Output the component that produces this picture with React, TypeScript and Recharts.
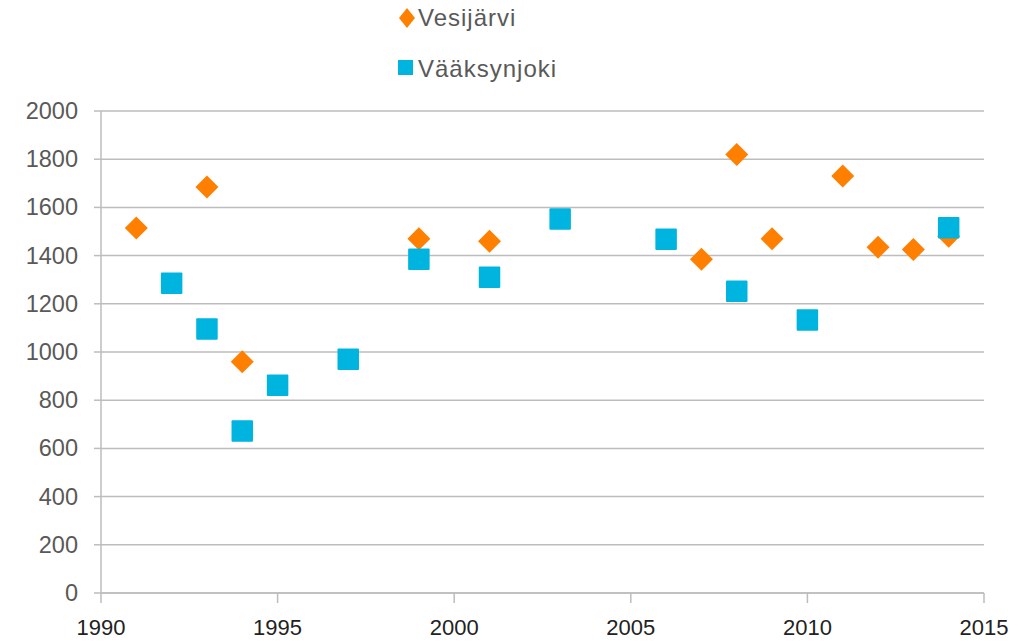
import { ScatterChart, Scatter, XAxis, YAxis, CartesianGrid } from "recharts";

const vesiYears = [1991, 1993, 1994, 1999, 2001, 2007, 2008, 2009, 2011, 2012, 2013, 2014];
const vesiValues = [1515, 1685, 960, 1470, 1460, 1385, 1820, 1470, 1730, 1435, 1425, 1480];
const vaakYears = [1992, 1993, 1994, 1995, 1997, 1999, 2001, 2003, 2006, 2008, 2010, 2014];
const vaakValues = [1285, 1095, 672, 862, 970, 1385, 1310, 1552, 1468, 1252, 1133, 1516];
const xTicks = [1990, 1995, 2000, 2005, 2010, 2015];
const yTicks = [0, 200, 400, 600, 800, 1000, 1200, 1400, 1600, 1800, 2000];

const ORANGE = "#FF8000";
const BLUE = "#00B4E0";
const GRID = "#BDBDBD";
const TEXT = "#595959";
const FONT = "Liberation Sans, Arial, sans-serif";

const vesiData = vesiYears.map((year, i) => ({ year, value: vesiValues[i] }));
const vaakData = vaakYears.map((year, i) => ({ year, value: vaakValues[i] }));

function Diamond({ cx, cy }: any) {
  const r = 11.5;
  return <polygon points={`${cx},${cy - r} ${cx + r},${cy} ${cx},${cy + r} ${cx - r},${cy}`} fill={ORANGE} />;
}

function Square({ cx, cy }: any) {
  const s = 21.5;
  return <rect x={cx - s / 2} y={cy - s / 2} width={s} height={s} rx={1} fill={BLUE} />;
}

function XTick({ x, y, payload }: any) {
  return (
    <text x={x} y={y + 30} textAnchor="middle" fontSize={22} fill="#222" fontFamily={FONT}>
      {payload.value}
    </text>
  );
}

function YTick({ y, payload }: any) {
  return (
    <text x={78} y={y} dy={8} textAnchor="end" fontSize={23.5} fill={TEXT} fontFamily={FONT}>
      {payload.value}
    </text>
  );
}

// legend drawn as an overlay so it doesn't push the plot down
function ChartLegend() {
  return (
    <svg width={240} height={100} style={{ position: "absolute", left: 390, top: 0 }}>
      <polygon points="17,8 25,18 17,28 9,18" fill={ORANGE} />
      <text x={28} y={26} fontSize={24} letterSpacing={1} fill={TEXT} fontFamily={FONT}>
        Vesijärvi
      </text>
      <rect x={8} y={60} width={15} height={15} fill={BLUE} />
      <text x={28} y={77} fontSize={24} letterSpacing={1} fill={TEXT} fontFamily={FONT}>
        Vääksynjoki
      </text>
    </svg>
  );
}

export default function App() {
  return (
    <div style={{ position: "absolute", left: 0, top: 0, width: 1026, height: 641, background: "#fff" }}>
      <ScatterChart width={1026} height={641} margin={{ top: 111, right: 42, left: 0, bottom: 0 }}>
        <CartesianGrid stroke={GRID} strokeWidth={1.5} vertical={false} />
        <XAxis
          type="number"
          dataKey="year"
          domain={[1990, 2015]}
          ticks={xTicks}
          height={48}
          tickSize={10}
          tick={<XTick />}
          axisLine={{ stroke: GRID, strokeWidth: 1.5 }}
          tickLine={{ stroke: GRID, strokeWidth: 1.5 }}
          allowDataOverflow
        />
        <YAxis
          type="number"
          dataKey="value"
          domain={[0, 2000]}
          ticks={yTicks}
          width={101}
          tickSize={7}
          tick={<YTick />}
          axisLine={{ stroke: GRID, strokeWidth: 1.5 }}
          tickLine={{ stroke: GRID, strokeWidth: 1.5 }}
        />
        <Scatter name="Vesijärvi" data={vesiData} shape={<Diamond />} isAnimationActive={false} />
        <Scatter name="Vääksynjoki" data={vaakData} shape={<Square />} isAnimationActive={false} />
      </ScatterChart>
      <ChartLegend />
    </div>
  );
}
